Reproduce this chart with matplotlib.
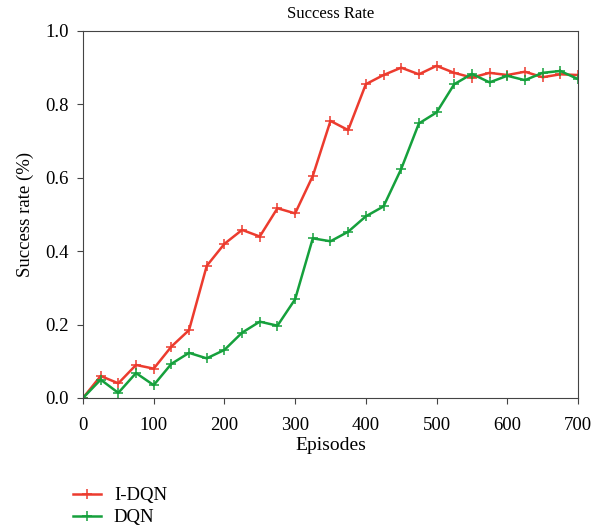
import numpy as np
import matplotlib.pyplot as plt

plt.rcParams['font.family'] = ['Liberation Serif', 'DejaVu Serif']

# episodios avaliados (a cada 25)
episodes = np.arange(0, 701, 25)

# taxa de sucesso
idqn = [0.0, 0.06, 0.04, 0.09, 0.08, 0.14, 0.185, 0.36, 0.42, 0.458, 0.44,
        0.517, 0.503, 0.605, 0.755, 0.73, 0.855, 0.88, 0.90, 0.882, 0.905,
        0.886, 0.873, 0.886, 0.88, 0.889, 0.874, 0.882, 0.88]
dqn = [0.0, 0.05, 0.014, 0.068, 0.035, 0.093, 0.123, 0.108, 0.131, 0.178,
       0.208, 0.197, 0.269, 0.435, 0.427, 0.453, 0.495, 0.522, 0.624, 0.748,
       0.778, 0.855, 0.883, 0.86, 0.878, 0.866, 0.886, 0.891, 0.869]

red = '#ec3b2e'
green = '#15a03c'

fig = plt.figure(figsize=(6.03, 5.27), dpi=100)
ax = fig.add_axes([0.1376, 0.2448, 0.8209, 0.6964])

ax.plot(episodes, idqn, color=red, marker='+', markersize=7, linewidth=1.8,
        markeredgewidth=1.1, label='I-DQN')
ax.plot(episodes, dqn, color=green, marker='+', markersize=7, linewidth=1.8,
        markeredgewidth=1.1, label='DQN')

ax.set_xlim(0, 700)
ax.set_ylim(0, 1.0)
ax.set_xticks(np.arange(0, 701, 100))
ax.set_yticks(np.arange(0, 1.01, 0.2))
ax.yaxis.set_major_formatter(plt.FormatStrFormatter('%.1f'))
ax.tick_params(labelsize=13.5, direction='out', length=4, color='#444444')
ax.tick_params(axis='x', pad=10)
ax.tick_params(axis='y', pad=6)
for s in ax.spines.values():
    s.set_color('#444444')

ax.set_title('Success Rate', fontsize=12, pad=9)
ax.set_xlabel('Episodes', fontsize=14, labelpad=2)
ax.set_ylabel('Success rate (%)', fontsize=13.5, labelpad=8)

fig.legend(loc='upper left', bbox_to_anchor=(0.105, 0.093), frameon=False,
           fontsize=13.5, handlelength=1.5, labelspacing=0.25,
           borderpad=0, handletextpad=0.7)

fig.savefig('out.png', dpi=100)
